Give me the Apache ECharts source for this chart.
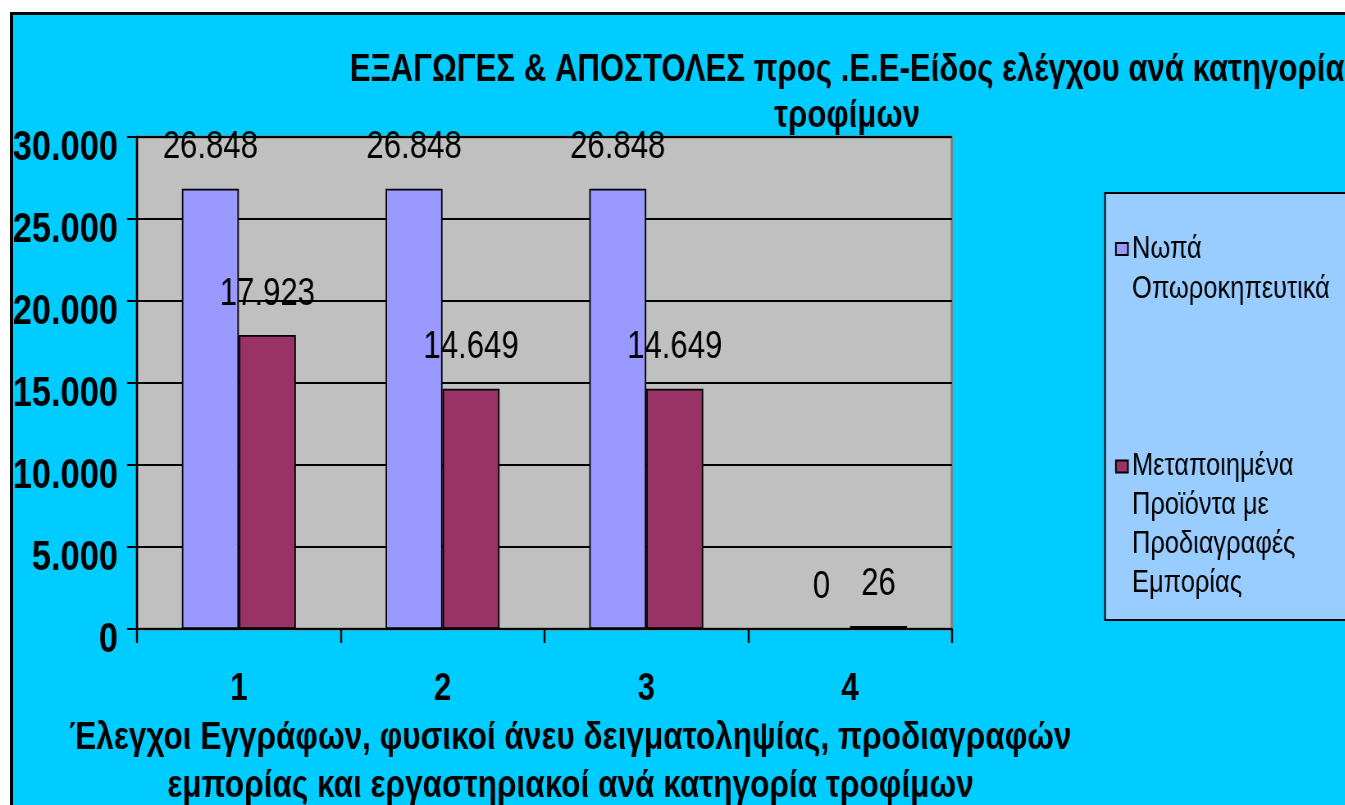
<!DOCTYPE html>
<html>
<head>
<meta charset="utf-8">
<script src="https://cdn.jsdelivr.net/npm/echarts@6/dist/echarts.min.js"></script>
<style>
  html, body { margin: 0; padding: 0; background: #ffffff; overflow: hidden; }
  #frame { position: absolute; left: 10px; top: 12px; width: 1400px; height: 900px;
           background: #00CCFF; border: 3px solid #000; box-sizing: border-box; }
  #chart { position: absolute; left: 0; top: 0; height: 805px; transform-origin: 0 0; }
</style>
</head>
<body>
<div id="frame"></div>
<div id="chart"></div>
<script>
// ---- data ----
const categories = ['1', '2', '3', '4'];
const seriesNames = ['Νωπά\nΟπωροκηπευτικά', 'Μεταποιημένα\nΠροϊόντα με\nΠροδιαγραφές\nΕμπορίας'];
const freshValues = [26848, 26848, 26848, 0];
const processedValues = [17923, 14649, 14649, 26];
const yTicks = [0, 5000, 10000, 15000, 20000, 25000, 30000];
const titleText = 'ΕΞΑΓΩΓΕΣ & ΑΠΟΣΤΟΛΕΣ προς .Ε.Ε-Είδος ελέγχου ανά κατηγορία\nτροφίμων';
const xAxisName = 'Έλεγχοι Εγγράφων, φυσικοί άνευ δειγματοληψίας, προδιαγραφών\nεμπορίας και εργαστηριακοί ανά κατηγορία τροφίμων';

// The reference uses a narrow font; draw with Liberation Sans and compress horizontally.
const SX = 0.82;
const W = 1345 / SX;
const X = function (px) { return px / SX; };
const FONT = "'Liberation Sans', Arial, sans-serif";
function fmt(v) { return String(v).replace(/\B(?=(\d{3})+(?!\d))/g, '.'); }
// legend text: pad with leading blank lines so the marker sits beside the first line
function legendText(name) {
  const n = name.split('\n').length;
  return '\n'.repeat(n - 1) + name;
}

const el = document.getElementById('chart');
el.style.width = W + 'px';
el.style.transform = 'scaleX(' + SX + ')';

const chart = echarts.init(el, null, { renderer: 'canvas' });
chart.setOption({
  backgroundColor: 'transparent',
  animation: false,
  textStyle: { fontFamily: FONT },
  title: {
    text: titleText,
    left: X(843), top: 43, textAlign: 'center',
    textStyle: { fontFamily: FONT, fontSize: 38, fontWeight: 'bold', color: '#000', lineHeight: 46, align: 'center' }
  },
  graphic: [{
    type: 'rect', z: 0, silent: true,
    shape: { x: X(1105), y: 193, width: X(260), height: 427 },
    style: { fill: '#99CCFF', stroke: '#000', lineWidth: 2 }
  }],
  legend: [{
    data: [seriesNames[0]],
    formatter: legendText,
    orient: 'vertical', left: X(1111), top: 184,
    icon: 'rect', itemWidth: X(12), itemHeight: 12, itemGap: 0,
    textStyle: { fontFamily: FONT, fontSize: 31, color: '#000', lineHeight: 40 },
    z: 5
  }, {
    data: [seriesNames[1]],
    formatter: legendText,
    orient: 'vertical', left: X(1111), top: 325,
    icon: 'rect', itemWidth: X(12), itemHeight: 12, itemGap: 0,
    textStyle: { fontFamily: FONT, fontSize: 31, color: '#000', lineHeight: 39 },
    z: 5
  }],
  grid: {
    left: X(137), right: X(1345 - 952), top: 137, bottom: 176,
    containLabel: false, outerBoundsMode: 'none',
    show: true, backgroundColor: '#C0C0C0', borderColor: '#808080', borderWidth: 3
  },
  xAxis: {
    type: 'category', data: categories,
    axisLine: { lineStyle: { color: '#000', width: 2 } },
    axisTick: { show: true, length: 14, lineStyle: { color: '#000', width: 2 / SX } },
    axisLabel: { margin: 42, fontFamily: FONT, fontSize: 38, fontWeight: 'bold', color: '#000' },
    name: xAxisName, nameLocation: 'middle', nameGap: 74,
    nameTextStyle: { fontFamily: FONT, fontSize: 38.5, fontWeight: 'bold', color: '#000', lineHeight: 48, padding: [0, 0, 0, X(52)] }
  },
  yAxis: {
    type: 'value', min: 0, max: 30000, interval: 5000,
    axisLine: { show: true, lineStyle: { color: '#000', width: 2 / SX } },
    axisTick: { show: true, length: X(10), lineStyle: { color: '#000', width: 2 } },
    splitLine: { show: true, lineStyle: { color: '#000', width: 2 } },
    axisLabel: {
      margin: X(19), fontFamily: FONT, fontSize: 42, fontWeight: 'bold', color: '#000',
      lineHeight: 22,
      formatter: function (v) { return yTicks.indexOf(v) >= 0 ? '\n' + fmt(v) : ''; }
    }
  },
  series: [{
    name: seriesNames[0], type: 'bar', data: freshValues,
    barWidth: X(57), barGap: '0%',
    itemStyle: { color: '#9999FF', borderColor: '#000', borderWidth: 1.8 },
    label: { show: true, position: 'top', distance: 22, fontFamily: FONT, fontSize: 38, color: '#000',
             formatter: function (p) { return fmt(p.value); } }
  }, {
    name: seriesNames[1], type: 'bar', data: processedValues,
    barWidth: X(57), barGap: '0%', barMinHeight: 3,
    itemStyle: { color: '#993366', borderColor: '#000', borderWidth: 1.8 },
    label: { show: true, position: 'top', distance: 22, fontFamily: FONT, fontSize: 38, color: '#000',
             formatter: function (p) { return fmt(p.value); } }
  }]
});
</script>
</body>
</html>
